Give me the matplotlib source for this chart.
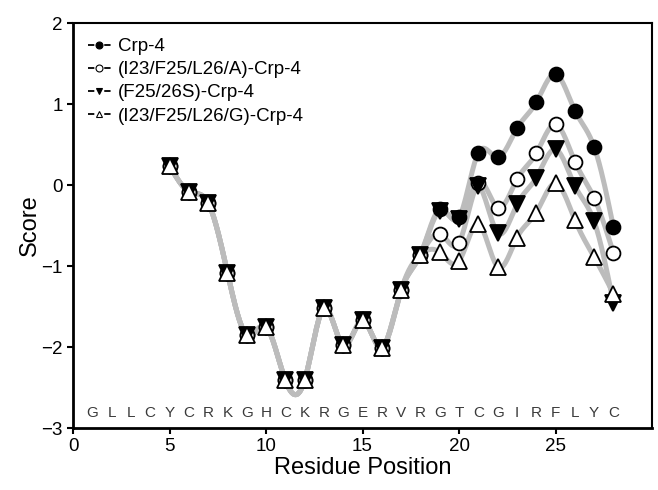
import numpy as np
import matplotlib
matplotlib.use("Agg")
import matplotlib.pyplot as plt
from matplotlib.lines import Line2D

plt.rcParams['font.family'] = ['Liberation Sans', 'DejaVu Sans']

# residue positions with scores
positions = list(range(5, 29))

# positions 5-18 are the same for every peptide
common = [0.24, -0.08, -0.22, -1.08, -1.85, -1.75, -2.41, -2.41,
          -1.52, -1.98, -1.67, -2.01, -1.30, -0.86]

crp4 = common + [-0.30, -0.40, 0.40, 0.34, 0.70, 1.02, 1.37, 0.92, 0.47, -0.52]
mut_a = common + [-0.60, -0.71, 0.02, -0.28, 0.07, 0.39, 0.75, 0.29, -0.16, -0.84]
mut_s = common + [-0.32, -0.42, -0.01, -0.59, -0.24, 0.09, 0.44, -0.01, -0.45, -1.46]
mut_g = common + [-0.83, -0.94, -0.48, -1.01, -0.65, -0.34, 0.02, -0.43, -0.89, -1.34]

labels = ['Crp-4', '(I23/F25/L26/A)-Crp-4', '(F25/26S)-Crp-4', '(I23/F25/L26/G)-Crp-4']

sequence = list('GLLCYCRKGHCKRGERVRGTCGIRFLYC')


def spline_curve(x, y, n=400):
    # natural cubic spline through the points, just for drawing the grey curve
    x = np.asarray(x, float)
    y = np.asarray(y, float)
    k = len(x)
    h = np.diff(x)
    A = np.zeros((k, k))
    b = np.zeros(k)
    A[0, 0] = A[-1, -1] = 1
    for i in range(1, k - 1):
        A[i, i - 1] = h[i - 1]
        A[i, i] = 2 * (h[i - 1] + h[i])
        A[i, i + 1] = h[i]
        b[i] = 3 * ((y[i + 1] - y[i]) / h[i] - (y[i] - y[i - 1]) / h[i - 1])
    c = np.linalg.solve(A, b)
    xs = np.linspace(x[0], x[-1], n)
    idx = np.clip(np.searchsorted(x, xs) - 1, 0, k - 2)
    dx = xs - x[idx]
    bb = (y[idx + 1] - y[idx]) / h[idx] - h[idx] * (2 * c[idx] + c[idx + 1]) / 3
    d = (c[idx + 1] - c[idx]) / (3 * h[idx])
    ys = y[idx] + bb * dx + c[idx] * dx ** 2 + d * dx ** 3
    return xs, ys


fig = plt.figure(figsize=(6.58, 4.9), dpi=100)
ax = fig.add_axes([0.111, 0.1265, 0.88, 0.8265])

series = [crp4, mut_a, mut_s, mut_g]
styles = [dict(marker='o', mfc='black', ms=10),
          dict(marker='o', mfc='white', ms=10),
          dict(marker='v', mfc='black', ms=11),
          dict(marker='^', mfc='white', ms=11)]

for ys in series:
    sx, sy = spline_curve(positions, ys)
    ax.plot(sx, sy, color='#bcbcbc', lw=3.6, solid_capstyle='round', zorder=1)

for ys, st in zip(series, styles):
    ax.plot(positions, ys, linestyle='none', marker=st['marker'], ms=st['ms'],
            mfc=st['mfc'], mec='black', mew=1.3, zorder=3)

for i, letter in enumerate(sequence):
    ax.text(i + 1, -2.82, letter, ha='center', va='center', fontsize=11,
            color='#3a3a3a')

handles = [Line2D([], [], color='black', lw=1.3, linestyle=(0, (3.5, 5.5)),
                  marker=st['marker'], ms=5, mfc=st['mfc'], mec='black', mew=0.8)
           for st in styles]
ax.legend(handles, labels, loc='upper left', frameon=False, fontsize=13.5,
          handlelength=1.2, handletextpad=0.4, labelspacing=0.32,
          borderaxespad=0.4, bbox_to_anchor=(0.0, 1.0))

ax.set_xlim(0, 30)
ax.set_ylim(-3, 2)
ax.set_xticks([0, 5, 10, 15, 20, 25])
ax.set_yticks([-3, -2, -1, 0, 1, 2])
ax.tick_params(direction='out', length=4, width=1.5, labelsize=13.5)
for side in ['left', 'bottom']:
    ax.spines[side].set_linewidth(2)
for side in ['top', 'right']:
    ax.spines[side].set_linewidth(1.5)

ax.set_xlabel('Residue Position', fontsize=17, labelpad=1)
ax.set_ylabel('Score', fontsize=17, labelpad=0)

fig.savefig('out.png', dpi=100)
